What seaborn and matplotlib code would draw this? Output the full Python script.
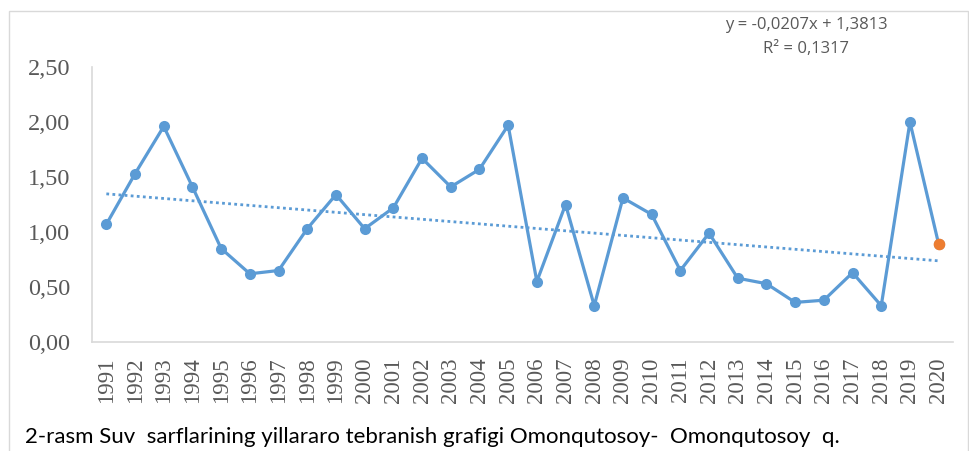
import numpy as np
import pandas as pd
import matplotlib
matplotlib.use("Agg")
import matplotlib.pyplot as plt
import seaborn as sns
from matplotlib.patches import Rectangle

years = [str(y) for y in range(1991, 2021)]
values = [1.07, 1.53, 1.96, 1.41, 0.85, 0.62, 0.65, 1.03, 1.34, 1.03,
          1.22, 1.67, 1.41, 1.57, 1.97, 0.55, 1.25, 0.33, 1.31, 1.16,
          0.65, 0.99, 0.58, 0.53, 0.36, 0.38, 0.63, 0.33, 2.00, 0.89]
yticks = [0.0, 0.5, 1.0, 1.5, 2.0, 2.5]
ytick_labels = ["0,00", "0,50", "1,00", "1,50", "2,00", "2,50"]
equation = "y = -0,0207x + 1,3813"
r2_text = "R² = 0,1317"
caption = "2-rasm Suv  sarflarining yillararo tebranish grafigi Omonqutosoy-  Omonqutosoy  q."

BLUE = "#5B9BD5"
ORANGE = "#ED7D31"
GRAY = "#595959"

df = pd.DataFrame({"idx": np.arange(len(years)), "year": years, "value": values})

sns.set_theme(style="white")
W, H = 970, 451
fig = plt.figure(figsize=(W / 100, H / 100), dpi=100)
ax = fig.add_axes([92 / W, 1 - 342 / H, (953 - 92) / W, (342 - 67) / H])

# chart-area border
fig.patches.append(Rectangle((9 / W, -0.1), (968 - 9) / W, 1 - 11 / H + 0.1,
                             transform=fig.transFigure, fill=False,
                             edgecolor="#D9D9D9", linewidth=1.0))

sns.regplot(data=df, x="idx", y="value", scatter=False, ci=None, truncate=True,
            line_kws=dict(color=BLUE, linestyle=(0, (1, 1.2)), linewidth=2.0), ax=ax)
sns.lineplot(data=df, x="idx", y="value", color=BLUE, linewidth=2.3,
             marker="o", markersize=8, markeredgewidth=0, ax=ax)
sns.scatterplot(data=df.iloc[[-1]], x="idx", y="value", color=ORANGE, s=70,
                linewidth=0, ax=ax, zorder=5)

ax.set_xlim(-0.5, len(years) - 0.5)
ax.set_ylim(0, 2.5)
ax.set_xticks(df["idx"])
ax.set_xticklabels(years, rotation=90, fontsize=16.5, color=GRAY, family="Liberation Serif")
ax.set_yticks(yticks)
ax.set_yticklabels(ytick_labels, fontsize=17.5, color=GRAY, family="Liberation Serif")
ax.tick_params(axis="x", length=0, pad=11)
ax.tick_params(axis="y", length=0, pad=15.5)
ax.set_xlabel("")
ax.set_ylabel("")
ax.grid(False)
for s in ["top", "right"]:
    ax.spines[s].set_visible(False)
ax.spines["left"].set_color("#D9D9D9")
ax.spines["bottom"].set_color("#D9D9D9")
ax.spines["left"].set_linewidth(1.2)
ax.spines["bottom"].set_linewidth(1.2)

fig.text(806 / W, 1 - 25 / H, equation, ha="center", va="center", fontsize=12,
         color=GRAY, family="Open Sans")
fig.text(806 / W, 1 - 49 / H, r2_text, ha="center", va="center", fontsize=12,
         color=GRAY, family="Open Sans")
fig.text(25 / W, 1 - 437 / H, caption, ha="left", va="center", fontsize=16,
         color="black", family="Lato")

fig.savefig("out.png", dpi=100)
